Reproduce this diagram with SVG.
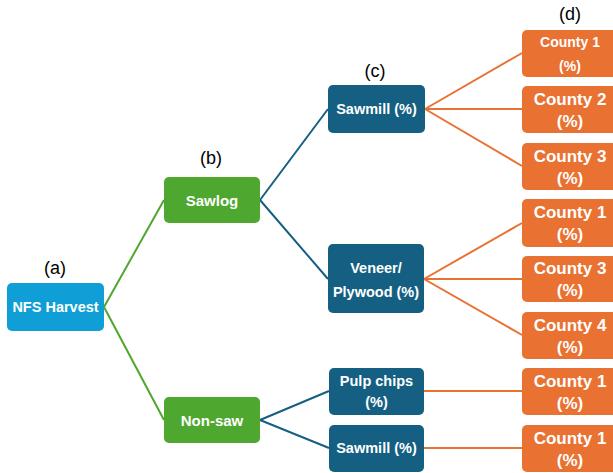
<svg xmlns="http://www.w3.org/2000/svg" width="613" height="473" viewBox="0 0 613 473">
<style>
text{font-family:"Liberation Sans",Arial,sans-serif;text-anchor:middle;dominant-baseline:central}
.t{fill:#fff;font-weight:bold;font-size:14.5px}
.c{fill:#fff;font-weight:bold;font-size:17px}
.lab{fill:#000;font-size:18px}
.a{fill:#0F9ED5}
.g{fill:#4EA72E}
.b{fill:#156082}
.o{fill:#E97132}
.lg{stroke:#4EA72E;stroke-width:2;fill:none}
.lb{stroke:#156082;stroke-width:2;fill:none}
.lo{stroke:#E97132;stroke-width:2;fill:none}
</style>
<rect width="613" height="473" fill="#fff"/>
<g id="connectors">
<path class="lg" d="M104,307 L164,200 M104,307 L164,420"/>
<path class="lb" d="M260,200 L328,109 M260,200 L328,279 M260,420 L329,391 M260,420 L329,448"/>
<path class="lo" d="M425,109 L522,53 M425,109 L522,109 M425,109 L522,166 M424,279 L522,223 M424,279 L522,279 M424,279 L522,335 M424,391 L522,391 M424,448 L522,448"/>
</g>
<g id="labels">
<text class="lab" x="55" y="268">(a)</text>
<text class="lab" x="211" y="158">(b)</text>
<text class="lab" x="375" y="71">(c)</text>
<text class="lab" x="570" y="14">(d)</text>
</g>
<g id="nfs"><rect class="a" x="7" y="283" width="97" height="48" rx="5"/><text class="t" x="55.5" y="307">NFS Harvest</text></g>
<g id="sawlog"><rect class="g" x="164" y="177" width="96" height="46" rx="5"/><text class="t" x="212" y="200" style="font-size:15px">Sawlog</text></g>
<g id="nonsaw"><rect class="g" x="164" y="397" width="96" height="46" rx="5"/><text class="t" x="212" y="420" style="font-size:15px">Non-saw</text></g>
<g id="sawmill1"><rect class="b" x="328" y="85" width="97" height="48" rx="5"/><text class="t" x="376.5" y="109">Sawmill (%)</text></g>
<g id="veneer"><rect class="b" x="328" y="244" width="96" height="69" rx="5"/><text class="t" x="376" y="268">Veneer/</text><text class="t" x="376" y="292">Plywood (%)</text></g>
<g id="pulp"><rect class="b" x="329" y="368" width="95" height="47" rx="5"/><text class="t" x="376.5" y="381">Pulp chips</text><text class="t" x="376.5" y="402">(%)</text></g>
<g id="sawmill2"><rect class="b" x="329" y="425" width="95" height="47" rx="5"/><text class="t" x="376.5" y="448">Sawmill (%)</text></g>
<g id="county1a"><rect class="o" x="522" y="30" width="96" height="47" rx="5"/><text class="t" x="570" y="42" style="font-size:14px">County 1</text><text class="t" x="570" y="66" style="font-size:14px">(%)</text></g>
<g id="county2"><rect class="o" x="522" y="86" width="96" height="47" rx="5"/><text class="c" x="570" y="99">County 2</text><text class="c" x="570" y="121">(%)</text></g>
<g id="county3a"><rect class="o" x="522" y="143" width="96" height="47" rx="5"/><text class="c" x="570" y="156">County 3</text><text class="c" x="570" y="178">(%)</text></g>
<g id="county1b"><rect class="o" x="522" y="199" width="96" height="48" rx="5"/><text class="c" x="570" y="212">County 1</text><text class="c" x="570" y="234">(%)</text></g>
<g id="county3b"><rect class="o" x="522" y="256" width="96" height="46" rx="5"/><text class="c" x="570" y="268">County 3</text><text class="c" x="570" y="290">(%)</text></g>
<g id="county4"><rect class="o" x="522" y="312" width="96" height="47" rx="5"/><text class="c" x="570" y="325">County 4</text><text class="c" x="570" y="347">(%)</text></g>
<g id="county1c"><rect class="o" x="522" y="368" width="96" height="47" rx="5"/><text class="c" x="570" y="381">County 1</text><text class="c" x="570" y="403">(%)</text></g>
<g id="county1d"><rect class="o" x="522" y="425" width="96" height="47" rx="5"/><text class="c" x="570" y="438">County 1</text><text class="c" x="570" y="460">(%)</text></g>
</svg>
